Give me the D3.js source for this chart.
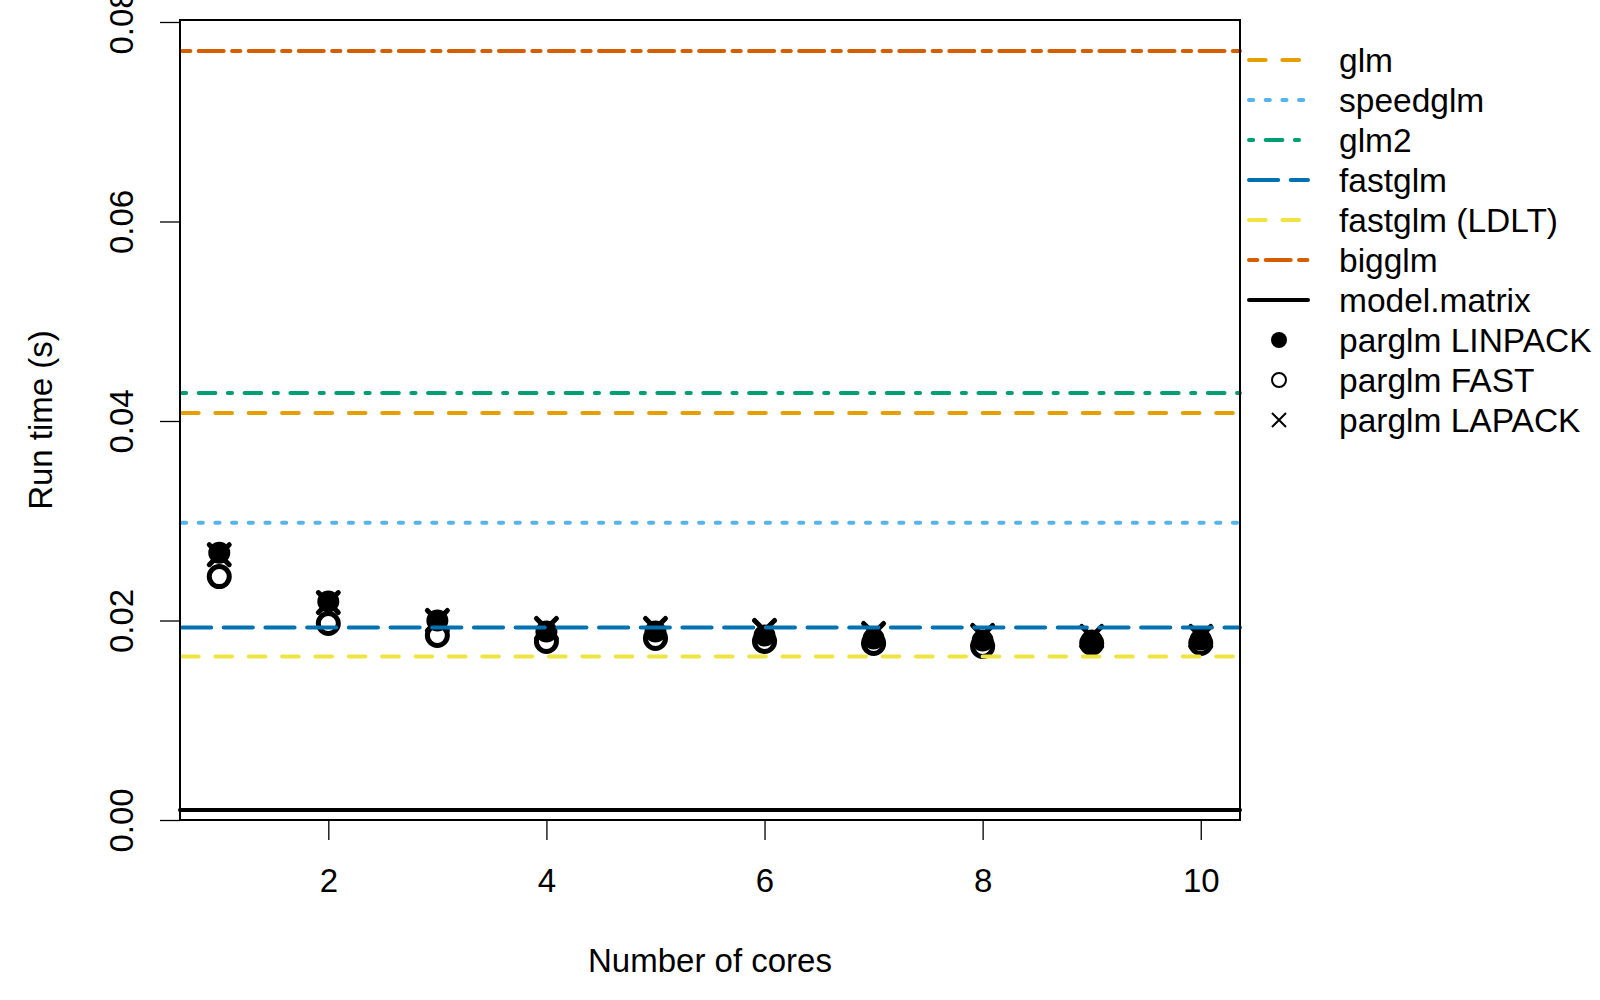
<!DOCTYPE html>
<html lang="en">
<head>
    <meta charset="UTF-8">
    <title>parglm run time</title>
    <style>
        body {
            margin: 0;
            background-color: #ffffff;
        }
        svg {
            display: block;
            font-family: "Liberation Sans", Arial, Helvetica, sans-serif;
        }
        .axis line {
            stroke: #000;
            stroke-width: 1.3px;
        }
        .axis text {
            fill: #000;
            font-size: 33px;
        }
    </style>
</head>
<body>
<script src="https://d3js.org/d3.v7.min.js"></script>
<script>
    // number of cores on the x axis
    var cores = [1, 2, 3, 4, 5, 6, 7, 8, 9, 10];

    // parglm run times (s)
    var parglmLinpack = [0.0268, 0.0219, 0.0200, 0.0189, 0.0189, 0.0185, 0.0182, 0.0180, 0.0180, 0.0181];
    var parglmFast    = [0.0244, 0.0197, 0.0185, 0.0179, 0.0182, 0.0179, 0.0177, 0.0174, 0.0177, 0.0177];
    var parglmLapack  = [0.0266, 0.0218, 0.0200, 0.0192, 0.0192, 0.0190, 0.0187, 0.0185, 0.0184, 0.0184];

    // reference methods, one run time each (horizontal lines)
    var methodNames = ["glm", "speedglm", "glm2", "fastglm", "fastglm (LDLT)", "bigglm", "model.matrix"];
    var methodTimes = [0.0408, 0.0298, 0.0428, 0.0193, 0.0164, 0.0771, 0.0010];
    var methodColors = ["#E69F00", "#56B4E9", "#009E73", "#0072B2", "#F0E442", "#D55E00", "#000000"];
    // R line types (hex pattern), "" = solid
    var methodLty = ["44", "13", "1343", "73", "44", "2262", ""];

    var pointNames = ["parglm LINPACK", "parglm FAST", "parglm LAPACK"];

    var xTicks = [2, 4, 6, 8, 10];
    var yTicks = [0, 0.02, 0.04, 0.06, 0.08];

    var width = 1600, height = 1000;
    var box = {left: 180, right: 1240, top: 20, bottom: 820};
    var lineWidth = 4;
    var unit = 4.17; // dash unit in px

    var svg = d3.select("body").append("svg")
        .attr("width", width)
        .attr("height", height);

    var xScale = d3.scaleLinear()
        .domain([0.64, 10.36])
        .range([box.left, box.right]);

    var yScale = d3.scaleLinear()
        .domain([0, 0.0802])
        .range([box.bottom, box.top]);

    /* turn an R lty hex string into an svg dasharray for round caps */
    function dashArray(lty) {
        if (!lty) return null;
        var parts = lty.split("").map(function(c, i) {
            var len = parseInt(c, 16) * unit;
            return i % 2 === 0 ? Math.max(len, 0.01) : len;
        });
        return parts.join(" ");
    }

    // axes
    var yAxis = d3.axisLeft(yScale)
        .tickValues(yTicks)
        .tickSize(20)
        .tickFormat(d3.format(".2f"));

    var gy = svg.append("g")
        .attr("class", "axis")
        .attr("transform", "translate(" + box.left + ",0)")
        .call(yAxis);
    gy.select(".domain").remove();
    gy.selectAll("text")
        .attr("x", null)
        .attr("dy", null)
        .attr("text-anchor", "middle")
        .attr("transform", "translate(-47,0) rotate(-90)");

    var xAxis = d3.axisBottom(xScale)
        .tickValues(xTicks)
        .tickSize(20)
        .tickFormat(d3.format("d"));

    var gx = svg.append("g")
        .attr("class", "axis")
        .attr("transform", "translate(0," + box.bottom + ")")
        .call(xAxis);
    gx.select(".domain").remove();
    gx.selectAll("text")
        .attr("y", 72)
        .attr("dy", null);

    // axis titles
    svg.append("text")
        .attr("x", (box.left + box.right) / 2)
        .attr("y", 972)
        .attr("text-anchor", "middle")
        .attr("font-size", 33)
        .text("Number of cores");

    svg.append("text")
        .attr("text-anchor", "middle")
        .attr("font-size", 33)
        .attr("transform", "translate(52," + (box.top + box.bottom) / 2 + ") rotate(-90)")
        .text("Run time (s)");

    // points
    var pts = svg.append("g");

    pts.selectAll(".linpack")
        .data(cores)
        .enter().append("circle")
        .attr("class", "linpack")
        .attr("cx", function(d) { return xScale(d); })
        .attr("cy", function(d, i) { return yScale(parglmLinpack[i]); })
        .attr("r", 8.5)
        .attr("fill", "#000")
        .attr("stroke", "#000")
        .attr("stroke-width", 5);

    pts.selectAll(".fast")
        .data(cores)
        .enter().append("circle")
        .attr("class", "fast")
        .attr("cx", function(d) { return xScale(d); })
        .attr("cy", function(d, i) { return yScale(parglmFast[i]); })
        .attr("r", 10)
        .attr("fill", "none")
        .attr("stroke", "#000")
        .attr("stroke-width", 5);

    var d = 10;
    pts.selectAll(".lapack")
        .data(cores)
        .enter().append("path")
        .attr("class", "lapack")
        .attr("d", function(c, i) {
            var px = xScale(c), py = yScale(parglmLapack[i]);
            return "M" + (px - d) + "," + (py - d) + "L" + (px + d) + "," + (py + d) +
                "M" + (px - d) + "," + (py + d) + "L" + (px + d) + "," + (py - d);
        })
        .attr("fill", "none")
        .attr("stroke", "#000")
        .attr("stroke-width", 5)
        .attr("stroke-linecap", "round");

    // horizontal method lines, drawn over the points
    svg.append("g").selectAll("line")
        .data(methodTimes)
        .enter().append("line")
        .attr("x1", xScale.range()[0])
        .attr("x2", xScale.range()[1])
        .attr("y1", function(t) { return yScale(t); })
        .attr("y2", function(t) { return yScale(t); })
        .attr("stroke", function(t, i) { return methodColors[i]; })
        .attr("stroke-width", lineWidth)
        .attr("stroke-linecap", "round")
        .attr("stroke-dasharray", function(t, i) { return dashArray(methodLty[i]); })
        .attr("stroke-dashoffset", -2);

    // plot box
    svg.append("rect")
        .attr("x", box.left)
        .attr("y", box.top)
        .attr("width", box.right - box.left)
        .attr("height", box.bottom - box.top)
        .attr("fill", "none")
        .attr("stroke", "#000")
        .attr("stroke-width", 2);

    // legend (outside the box, on the right)
    var legend = svg.append("g");
    var legY = d3.scaleLinear().domain([0, 1]).range([60, 100]);
    var legendNames = methodNames.concat(pointNames);

    legend.selectAll("text")
        .data(legendNames)
        .enter().append("text")
        .attr("x", 1339)
        .attr("y", function(n, i) { return legY(i) + 11.5; })
        .attr("font-size", 33.5)
        .text(function(n) { return n; });

    legend.selectAll("line")
        .data(methodNames)
        .enter().append("line")
        .attr("x1", 1249)
        .attr("x2", 1308)
        .attr("y1", function(n, i) { return legY(i); })
        .attr("y2", function(n, i) { return legY(i); })
        .attr("stroke", function(n, i) { return methodColors[i]; })
        .attr("stroke-width", lineWidth)
        .attr("stroke-linecap", "round")
        .attr("stroke-dasharray", function(n, i) { return dashArray(methodLty[i]); });

    var lx = 1279;
    legend.append("circle")
        .attr("cx", lx).attr("cy", legY(7))
        .attr("r", 8)
        .attr("fill", "#000");
    legend.append("circle")
        .attr("cx", lx).attr("cy", legY(8))
        .attr("r", 7)
        .attr("fill", "none")
        .attr("stroke", "#000")
        .attr("stroke-width", 2);
    legend.append("path")
        .attr("d", "M" + (lx - 7) + "," + (legY(9) - 7) + "L" + (lx + 7) + "," + (legY(9) + 7) +
            "M" + (lx - 7) + "," + (legY(9) + 7) + "L" + (lx + 7) + "," + (legY(9) - 7))
        .attr("fill", "none")
        .attr("stroke", "#000")
        .attr("stroke-width", 2);
</script>
</body>
</html>
